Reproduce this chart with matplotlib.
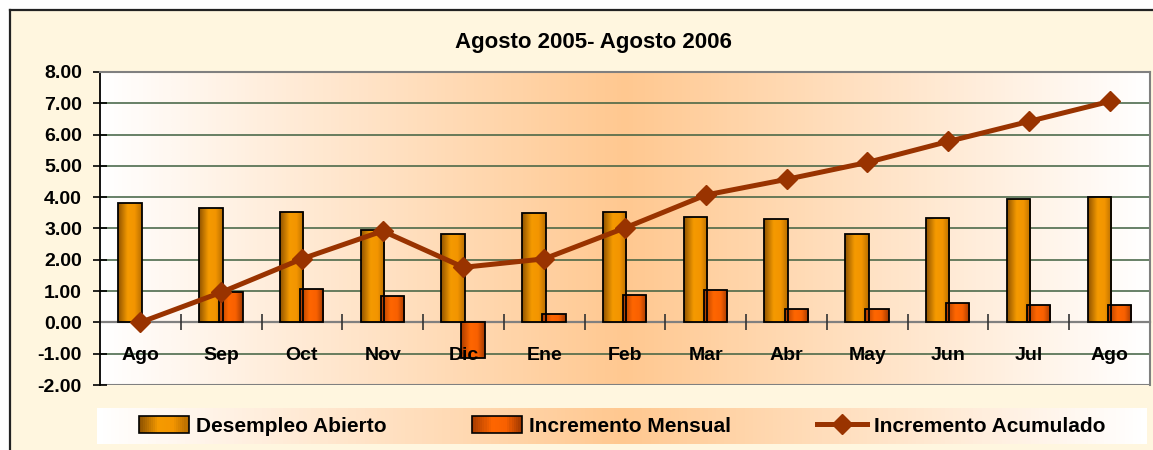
import numpy as np
import matplotlib
matplotlib.use("Agg")
import matplotlib.pyplot as plt
from matplotlib.colors import LinearSegmentedColormap
from matplotlib.patches import Rectangle
from matplotlib.lines import Line2D
from matplotlib.legend_handler import HandlerBase

# ---------------- data ----------------
categories = ["Ago", "Sep", "Oct", "Nov", "Dic", "Ene", "Feb", "Mar", "Abr", "May", "Jun", "Jul", "Ago"]
desempleo = [3.82, 3.66, 3.53, 2.96, 2.81, 3.48, 3.54, 3.38, 3.31, 2.84, 3.32, 3.95, 4.00]
incremento_mensual = [np.nan, 0.97, 1.07, 0.83, -1.14, 0.26, 0.89, 1.02, 0.44, 0.44, 0.62, 0.55, 0.55]
incremento_acumulado = [0.00, 0.96, 2.03, 2.92, 1.76, 2.03, 3.02, 4.07, 4.57, 5.11, 5.78, 6.42, 7.06]
yticks = [-2, -1, 0, 1, 2, 3, 4, 5, 6, 7, 8]
title = "Agosto 2005- Agosto 2006"
labels = ["Desempleo Abierto", "Incremento Mensual", "Incremento Acumulado"]

plt.rcParams['font.family'] = ['Liberation Sans', 'DejaVu Sans']

W, H = 1153, 450
fig = plt.figure(figsize=(W / 100, H / 100), dpi=100, facecolor="white")

def fx(px):
    return px / W

def fy(py):
    return 1 - py / H

# outer background + border (left and top only visible)
fig.add_artist(Rectangle((fx(10), 0), 1 - fx(10), fy(10), transform=fig.transFigure,
                         facecolor="#FFF6DF", edgecolor="none", zorder=-10))
fig.add_artist(Line2D([fx(10), fx(10)], [0, fy(10)], transform=fig.transFigure, color="#222222", lw=1.6))
fig.add_artist(Line2D([fx(10), 1], [fy(10), fy(10)], transform=fig.transFigure, color="#222222", lw=1.6))

# main axes
ax = fig.add_axes([fx(100), fy(385), fx(1150) - fx(100), fy(72) - fy(385)])
ax.set_facecolor("none")

bg_cmap = LinearSegmentedColormap.from_list("bg", ["#FFFFFF", "#FFC890", "#FFFFFF"])
grad = np.linspace(0, 1, 256).reshape(1, -1)
ax.imshow(grad, extent=[0, 1, 0, 1], transform=ax.transAxes, cmap=bg_cmap,
          aspect="auto", zorder=0, interpolation="bicubic")

cm_des = LinearSegmentedColormap.from_list(
    "des", [(0, "#8E5200"), (0.4, "#F59A00"), (0.7, "#F39500"), (1, "#B86E00")])
cm_inc = LinearSegmentedColormap.from_list(
    "inc", [(0, "#A83C00"), (0.4, "#FF6600"), (0.7, "#F86000"), (1, "#A03800")])

x = np.arange(len(categories))
bw = 0.29
off1, off2 = -0.128, 0.12

def grad_bars(xpos, vals, cmap):
    bars = ax.bar(xpos, vals, width=bw, facecolor="none", edgecolor="black",
                  linewidth=1.3, zorder=3)
    for b, v in zip(bars, vals):
        if np.isnan(v):
            continue
        x0 = b.get_x()
        y0, y1 = sorted([0, v])
        im = ax.imshow(grad, extent=[x0, x0 + bw, y0, y1], cmap=cmap, aspect="auto",
                       zorder=2.5, interpolation="bicubic")
        im.set_clip_path(b)
    return bars

grad_bars(x + off1, desempleo, cm_des)
grad_bars(x + off2, incremento_mensual, cm_inc)

ax.plot(x, incremento_acumulado, color="#993300", lw=3.6, marker="D",
        markersize=10, markeredgecolor="#993300", zorder=5)

ax.set_xlim(-0.5, len(categories) - 0.5)
ax.set_ylim(-2, 8)
ax.set_aspect("auto")

# grid
for yv in yticks:
    if yv in (0, -2):
        continue
    ax.axhline(yv, color="#3F5F3F", lw=1.1, zorder=1)
ax.axhline(-2, color="#808080", lw=1.5, zorder=1)

# spines
ax.spines["bottom"].set_position(("data", 0))
ax.spines["bottom"].set_color("#808080")
ax.spines["bottom"].set_linewidth(1.6)
ax.spines["bottom"].set_zorder(2)
ax.spines["top"].set_color("#808080")
ax.spines["top"].set_linewidth(1.5)
ax.spines["right"].set_color("#808080")
ax.spines["right"].set_linewidth(1.5)
ax.spines["left"].set_color("black")
ax.spines["left"].set_linewidth(1.3)

ax.set_yticks(yticks)
ax.set_yticklabels([f"{v:.2f}" for v in yticks], fontsize=14, fontweight="bold")
ax.tick_params(axis="y", direction="inout", length=10, width=1.2, pad=8)

ax.set_xticks(x)
ax.set_xticklabels(categories, fontsize=14, fontweight="bold")
ax.set_xticks(np.arange(0.5, len(categories) - 0.5, 1), minor=True)
ax.tick_params(axis="x", which="major", length=0, pad=18)
ax.tick_params(axis="x", which="minor", direction="inout", length=11, width=1.2, color="#333333")
ax.xaxis.set_zorder(6)

fig.text(fx(593), fy(48), title, ha="center", va="baseline", fontsize=16, fontweight="bold")

# legend area
lax = fig.add_axes([fx(97), fy(444), fx(1147) - fx(97), fy(408) - fy(444)])
lax.imshow(grad, extent=[0, 1, 0, 1], cmap=bg_cmap, aspect="auto", interpolation="bicubic")
lax.set_xlim(0, 1)
lax.set_ylim(0, 1)
lax.axis("off")


class GradHandler(HandlerBase):
    def __init__(self, cmap):
        super().__init__()
        self.cmap = cmap

    def create_artists(self, legend, orig_handle, xdescent, ydescent, width, height, fontsize, trans):
        n = 24
        arts = []
        h = height * 1.15
        y0 = -ydescent - (h - height) / 2
        for i in range(n):
            arts.append(Rectangle((-xdescent + width * i / n, y0), width / n * 1.1, h,
                                  facecolor=self.cmap(i / (n - 1)), edgecolor="none", transform=trans))
        arts.append(Rectangle((-xdescent, y0), width, h, facecolor="none",
                              edgecolor="black", lw=1.2, transform=trans))
        return arts


h1 = Rectangle((0, 0), 1, 1)
h2 = Rectangle((0, 0), 1, 1)
h3 = Line2D([], [], color="#993300", lw=3.6, marker="D", markersize=10)
leg = lax.legend([h1, h2, h3], labels, ncol=3, loc="center", frameon=False,
                 handler_map={h1: GradHandler(cm_des), h2: GradHandler(cm_inc)},
                 prop={"weight": "bold", "size": 15}, handlelength=2.4, handletextpad=0.35,
                 columnspacing=4.1, borderaxespad=0)

fig.savefig("out.png", dpi=100, facecolor=fig.get_facecolor())
